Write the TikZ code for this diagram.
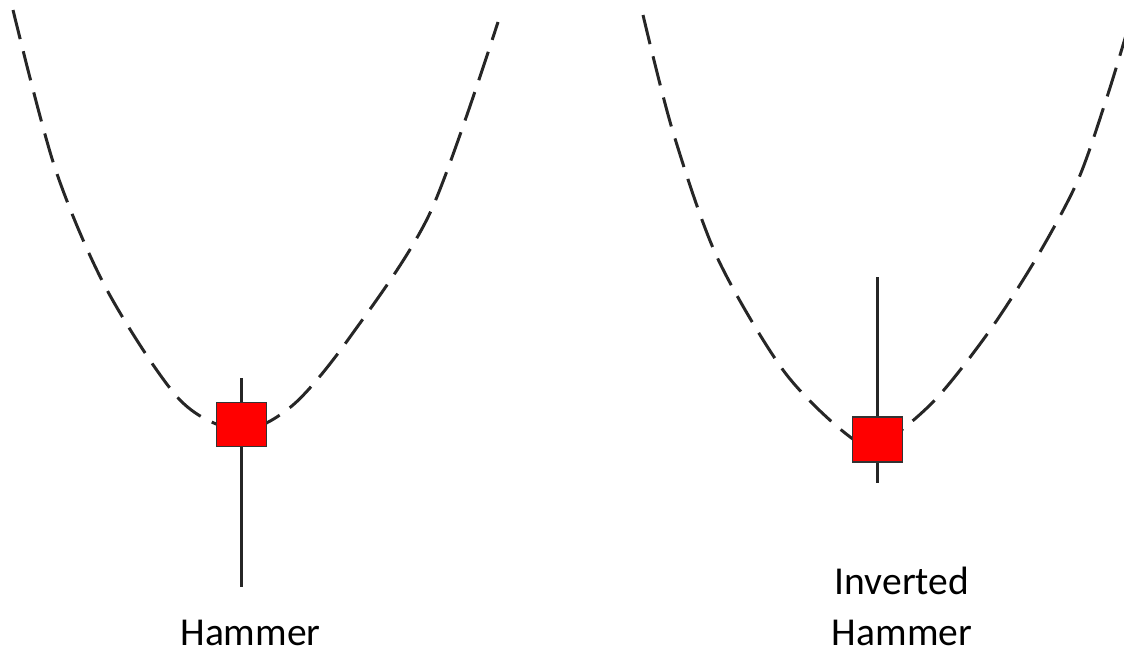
\documentclass[tikz,border=0pt]{standalone}
\usepackage{fontspec}
\setmainfont{Carlito}
\usetikzlibrary{positioning}

\begin{document}
\begin{tikzpicture}[
      x=0.02cm, y=-0.02cm,
      trend/.style={draw=black!85, line width=1.7pt, dash pattern=on 0.6cm off 0.25cm},
      wick/.style={draw=black!85, line width=1.7pt},
      body/.style={rectangle, draw=black!80, line width=0.6pt, fill=red, minimum width=1.0cm, minimum height=0.88cm, inner sep=0pt},
      caption/.style={font=\fontsize{22.5}{28.5}\selectfont, align=center, inner sep=0pt, text depth=0pt, text=black}
    ]
    \useasboundingbox (0,0) rectangle (1124,656);
    % trends
    \draw [trend] plot[smooth] coordinates {(13,10) (55,168) (107,290) (180,400) (241,430) (293,405) (350,337) (430,213) (498,22)};
    \draw [trend] plot[smooth] coordinates {(643,15) (673,132) (717,257) (783,370) (845,433) (878,445) (933,402) (988,333) (1037,257) (1078,180) (1107,97) (1126,35)};
    
    \node [body] (hammer) at (241.5,424.5) {};
    \node [body, minimum height=0.9cm] (invhammer) at (877.5,439.5) {};
    \coordinate (hammertop) at (241.5,378);
    \coordinate (hammerbot) at (241.5,587);
    \coordinate (invtop) at (877.5,277);
    \coordinate (invbot) at (877.5,483);
    
    \draw [wick] (hammer.north) -- (hammertop);
    \draw [wick] (hammer.south) -- (hammerbot);
    \draw [wick] (invhammer.north) -- (invtop);
    \draw [wick] (invhammer.south) -- (invbot);
    
    \node [caption, anchor=base] (hammerlabel) at (250.5,645) {Hammer};
    \node [caption, anchor=base] (invlabel) at (902,645) {Inverted\\Hammer};
  \end{tikzpicture}
\end{document}
